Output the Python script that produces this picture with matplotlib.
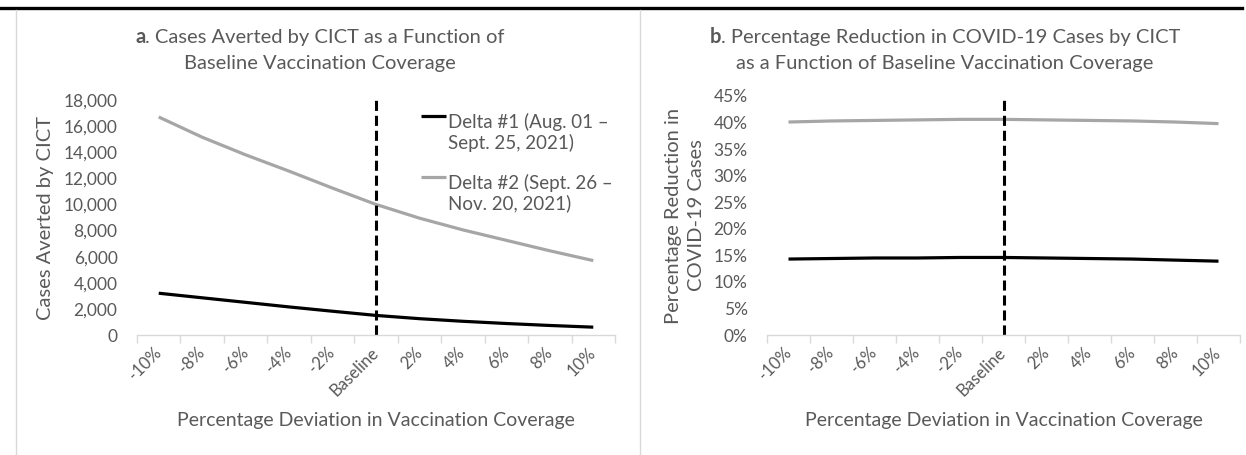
import numpy as np
import matplotlib
matplotlib.use('Agg')
import matplotlib.pyplot as plt
import matplotlib.transforms as mtransforms
from matplotlib.lines import Line2D
from matplotlib.legend_handler import HandlerLine2D
from matplotlib.ticker import FuncFormatter

plt.rcParams['font.family'] = ['Lato', 'DejaVu Sans']
TXT = '#595959'
AXIS = '#D9D9D9'

categories = ['-10%', '-8%', '-6%', '-4%', '-2%', 'Baseline', '2%', '4%', '6%', '8%', '10%']
baseline_idx = 5

# cases averted by CICT
averted_delta1 = [3200, 2850, 2500, 2150, 1820, 1500, 1250, 1050, 880, 730, 600]
averted_delta2 = [16700, 15150, 13800, 12550, 11250, 10000, 8950, 8050, 7250, 6450, 5700]

# percentage reduction in cases
reduction_delta1 = [0.143, 0.144, 0.145, 0.145, 0.146, 0.146, 0.145, 0.144, 0.143, 0.141, 0.139]
reduction_delta2 = [0.401, 0.403, 0.404, 0.405, 0.406, 0.406, 0.405, 0.404, 0.403, 0.401, 0.398]

label_delta1 = 'Delta #1 (Aug. 01 –\nSept. 25, 2021)'
label_delta2 = 'Delta #2 (Sept. 26 –\nNov. 20, 2021)'

W, H = 1246, 455
fig = plt.figure(figsize=(W / 100, H / 100), dpi=100)


def px_axes(left, right, top, bottom):
    return fig.add_axes([left / W, 1 - bottom / H, (right - left) / W, (bottom - top) / H])


def style_axes(ax):
    x = np.arange(len(categories))
    for s in ['top', 'right', 'left']:
        ax.spines[s].set_visible(False)
    ax.spines['bottom'].set_color(AXIS)
    ax.spines['bottom'].set_linewidth(1.0)
    ax.set_xlim(-0.5, len(categories) - 0.5)
    ax.set_xticks(x)
    ax.set_xticklabels(categories, rotation=45, ha='right', va='center',
                       rotation_mode='anchor', fontsize=12, color=TXT)
    # nudge the slanted labels so their ends sit just right of each category
    shift = mtransforms.ScaledTranslation(4 / 100, 0, fig.dpi_scale_trans)
    for lab in ax.get_xticklabels():
        lab.set_transform(lab.get_transform() + shift)
    ax.set_xticks(np.arange(-0.5, len(categories)), minor=True)
    ax.tick_params(axis='x', which='major', length=0, pad=11)
    ax.tick_params(axis='x', which='minor', length=6, color=AXIS, width=1)
    ax.tick_params(axis='y', length=0, pad=14, labelsize=12.5, labelcolor=TXT)
    ax.set_xlabel('Percentage Deviation in Vaccination Coverage', fontsize=14,
                  color=TXT, labelpad=9)


class FirstLineHandler(HandlerLine2D):
    # put the legend key beside the first line of a two-line label
    def create_artists(self, legend, orig_handle, xdescent, ydescent, width, height,
                       fontsize, trans):
        arts = super().create_artists(legend, orig_handle, xdescent, ydescent,
                                      width, height, fontsize, trans)
        for a in arts:
            a.set_ydata(np.asarray(a.get_ydata()) + fontsize * 0.9)
        return arts


# ---- panel a ----
ax1 = px_axes(137, 615, 100, 335)
x = np.arange(len(categories))
ax1.plot(x, averted_delta1, color='black', lw=2.3, solid_capstyle='butt', label=label_delta1)
ax1.plot(x, averted_delta2, color='#A6A6A6', lw=2.3, solid_capstyle='butt', label=label_delta2)
ax1.plot([baseline_idx, baseline_idx], [0, 18000], color='black', lw=2.2,
         linestyle=(0, (3.3, 1.6)))
ax1.set_ylim(0, 18000)
ax1.set_yticks(np.arange(0, 18001, 2000))
ax1.yaxis.set_major_formatter(FuncFormatter(lambda v, p: f'{int(v):,}'))
style_axes(ax1)
ax1.set_ylabel('Cases Averted by CICT', fontsize=14.5, color=TXT, labelpad=7)
ax1.legend(handler_map={Line2D: FirstLineHandler()}, loc='upper left',
           bbox_to_anchor=(421 / W, 1 - 113 / H), bbox_transform=fig.transFigure,
           frameon=False, fontsize=13.5, labelcolor=TXT, handlelength=1.35,
           handletextpad=0.1, borderpad=0, borderaxespad=0, labelspacing=1.15)

# ---- panel b ----
ax2 = px_axes(767, 1240, 96, 335)
ax2.plot(x, reduction_delta1, color='black', lw=2.3, solid_capstyle='butt')
ax2.plot(x, reduction_delta2, color='#A6A6A6', lw=2.3, solid_capstyle='butt')
ax2.plot([baseline_idx, baseline_idx], [0, 0.45], color='black', lw=2.2,
         linestyle=(0, (3.3, 1.6)))
ax2.set_ylim(0, 0.45)
ax2.set_yticks(np.arange(0, 0.451, 0.05))
ax2.yaxis.set_major_formatter(FuncFormatter(lambda v, p: f'{v * 100:.0f}%'))
style_axes(ax2)
ax2.set_ylabel('Percentage Reduction in\nCOVID-19 Cases', fontsize=14.5, color=TXT,
               labelpad=6, linespacing=1.45)

# ---- titles with a bold panel letter ----
renderer = fig.canvas.get_renderer()


def panel_title(cx, y1, y2, letter, rest, second):
    tb = fig.text(0, 1 - y1 / H, letter, fontsize=14.5, weight='bold', color=TXT,
                  ha='left', va='center')
    tr = fig.text(0, 1 - y1 / H, rest, fontsize=14.5, color=TXT, ha='left', va='center')
    wb = tb.get_window_extent(renderer).width
    wr = tr.get_window_extent(renderer).width
    x0 = cx - (wb + wr) / 2
    tb.set_x(x0 / W)
    tr.set_x((x0 + wb) / W)
    fig.text(cx / W, 1 - y2 / H, second, fontsize=14.5, color=TXT, ha='center',
             va='center')


panel_title(320, 37, 64, 'a', '. Cases Averted by CICT as a Function of',
            'Baseline Vaccination Coverage')
panel_title(945, 37, 64, 'b', '. Percentage Reduction in COVID-19 Cases by CICT',
            'as a Function of Baseline Vaccination Coverage')

# ---- table rules round the two panels ----
fig.add_artist(Line2D([0, 1242 / W], [1 - 8 / H, 1 - 8 / H], color='black', lw=2.4,
                      transform=fig.transFigure))
for xp in (16, 640):
    fig.add_artist(Line2D([xp / W, xp / W], [0, 1 - 10 / H], color=AXIS, lw=1.0,
                          transform=fig.transFigure))

fig.savefig('out.png', dpi=100)
